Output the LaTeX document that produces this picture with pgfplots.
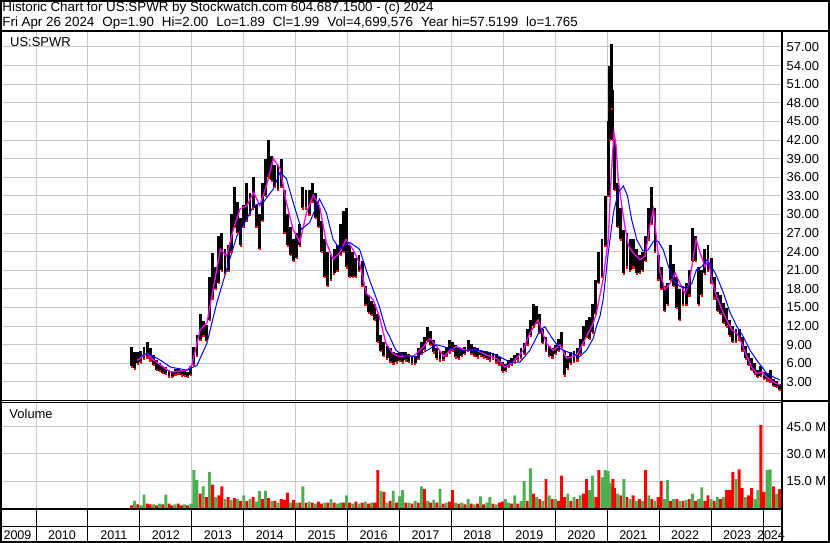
\documentclass[border=0pt]{standalone}
\usepackage{fontspec}
\setmainfont{Liberation Sans}
\usepackage{pgfplots}
\usepackage{pgfplotstable}
\pgfplotsset{compat=1.18}
\definecolor{gridgray}{RGB}{200,200,200}
\definecolor{volred}{RGB}{255,0,0}
\definecolor{volgreen}{RGB}{76,175,80}
\definecolor{mag}{RGB}{255,0,255}
\definecolor{mablue}{RGB}{0,0,255}
\newcommand{\hfa}{\fontsize{13.4}{16}\selectfont}
\newcommand{\hfb}{\fontsize{13.4}{16}\selectfont}
\newcommand{\tf}{\fontsize{13}{15}\selectfont}
\newcommand{\yf}{\fontsize{12.6}{15}\selectfont}
\newcommand{\ds}{\hspace{8.0bp}}

\pgfplotstableread{
x lo hi vr vg
2011.84 5.5 8.6 1.5 0
2011.90 5.2 7.8 0 4
2011.96 6.0 7.8 2 0
2012.02 6.2 8.0 0 1.5
2012.08 6.8 8.6 0 7.5
2012.14 7.0 9.5 2.5 0
2012.20 6.5 8.4 2 0
2012.26 5.8 7.4 0 2
2012.32 5.0 6.6 1.5 0
2012.38 4.8 6.0 0 2.5
2012.44 4.5 5.6 2 0
2012.50 4.3 5.4 0 7.5
2012.56 3.9 4.9 2.5 0
2012.62 3.8 4.8 1.5 0
2012.68 4.2 5.1 0 2
2012.74 4.3 5.2 2.5 0
2012.80 4.1 5.0 1.5 0
2012.86 4.0 4.9 0 2
2012.92 3.8 4.6 1.5 0
2012.98 4.2 5.6 0 2.5
2013.04 5.8 8.6 0 21
2013.10 7.2 10.5 0 15.5
2013.16 9.8 14.0 8 0
2013.22 10.4 12.8 0 12
2013.28 9.6 12.2 6 0
2013.34 13.0 20.0 0 20
2013.40 16.5 23.8 13 0
2013.46 18.0 21.5 0 6
2013.52 19.0 26.5 7 0
2013.58 21.0 27.0 12 0
2013.64 20.5 24.5 0 5
2013.70 21.0 25.0 6 0
2013.76 24.0 30.0 0 4.5
2013.82 28.0 34.5 5.5 0
2013.88 27.0 32.0 0 5
2013.94 25.0 29.5 4 0
2014.00 28.0 31.5 0 7
2014.06 29.0 35.0 4 0
2014.12 30.0 33.5 0 5
2014.18 31.0 36.0 6 0
2014.24 28.0 31.5 0 3.5
2014.30 24.5 30.0 0 9.5
2014.36 29.0 35.0 5 0
2014.42 33.0 39.0 0 9.5
2014.48 36.0 42.0 5.5 0
2014.54 35.5 39.5 0 4
2014.60 34.5 38.0 4 0
2014.66 34.0 38.0 0 3
2014.72 34.5 39.0 5 0
2014.78 27.0 34.0 4.5 0
2014.84 25.0 30.0 8.5 0
2014.90 23.5 28.0 0 3
2014.96 22.5 26.0 4.5 0
2015.02 23.0 27.0 0 3
2015.08 25.0 28.5 3 0
2015.14 31.0 34.5 0 12
2015.20 31.0 34.0 3 0
2015.26 30.0 34.0 0 3.5
2015.32 32.0 35.0 3 0
2015.38 29.5 33.5 0 2.5
2015.44 28.0 31.5 3.5 0
2015.50 24.0 29.0 2.5 0
2015.56 20.0 26.0 0 3
2015.62 18.5 24.0 3 0
2015.68 19.5 23.5 0 5
2015.74 20.5 24.5 3 0
2015.80 21.0 25.0 0 2.5
2015.86 23.5 28.5 0 3
2015.92 24.0 30.5 3 0
2015.98 21.5 31.0 0 7
2016.04 20.0 25.0 3 0
2016.10 20.0 24.0 0 2.5
2016.16 20.0 23.0 3.5 0
2016.22 21.0 23.5 0 2.5
2016.28 18.5 22.5 3 0
2016.34 15.5 18.5 0 3.5
2016.40 14.2 17.0 2.5 0
2016.46 13.8 16.0 0 3
2016.52 13.0 15.6 3 0
2016.58 9.5 14.0 21 0
2016.64 8.0 10.5 0 9.5
2016.70 7.2 9.5 9 0
2016.76 6.8 8.8 0 3
2016.82 6.3 8.5 4 0
2016.88 6.0 7.8 0 9.5
2016.94 6.2 7.6 3 0
2017.00 6.4 7.8 0 6.5
2017.06 6.2 7.9 0 10
2017.12 6.5 7.8 3 0
2017.18 6.3 7.5 0 3
2017.24 5.9 7.0 2.5 0
2017.30 6.0 7.2 0 4
2017.36 6.8 8.4 3 0
2017.42 7.5 9.4 0 12
2017.48 8.2 10.2 10.5 0
2017.54 9.6 11.8 0 4
2017.60 9.0 11.2 3 0
2017.66 7.8 9.8 0 4.5
2017.72 6.8 8.4 3 0
2017.78 6.5 8.0 0 10.5
2017.84 6.6 8.0 2.5 0
2017.90 7.2 8.6 0 3
2017.96 7.8 9.8 3.5 0
2018.02 8.0 9.5 10 0
2018.08 7.0 9.0 0 3
2018.14 6.8 8.5 2.5 0
2018.20 7.2 8.5 0 3
2018.26 7.5 8.6 2 0
2018.32 8.0 9.8 0 5
2018.38 7.6 9.2 2.5 0
2018.44 7.3 8.6 0 2
2018.50 7.0 8.4 2.5 0
2018.56 7.3 8.2 0 6.5
2018.62 7.0 8.0 2 0
2018.68 6.8 7.8 0 3
2018.74 6.5 7.8 0 6
2018.80 6.7 7.6 2.5 0
2018.86 6.2 7.5 0 2
2018.92 5.8 7.0 3 0
2018.98 4.7 6.2 3.5 0
2019.04 4.8 5.9 0 5
2019.10 5.4 6.5 0 3
2019.16 5.8 6.8 2.5 0
2019.22 6.2 7.4 0 7
2019.28 6.5 7.6 2.5 0
2019.34 6.9 8.4 0 4
2019.40 7.6 9.3 0 15
2019.46 9.0 11.5 4 0
2019.52 10.5 13.0 0 22
2019.58 12.0 15.5 8 0
2019.64 12.5 15.3 0 6
2019.70 11.0 14.0 5 0
2019.76 9.3 11.5 0 4
2019.82 8.0 10.2 16 0
2019.88 7.2 8.8 0 7
2019.94 7.0 8.5 5 0
2020.00 7.5 9.0 0 5
2020.06 8.0 10.0 4 0
2020.12 8.7 11.0 18 0
2020.18 4.1 8.0 6 0
2020.24 5.2 7.2 0 8
2020.30 6.0 7.8 4 0
2020.36 6.3 8.0 0 6
2020.42 6.5 8.5 5 0
2020.48 7.5 10.0 0 7
2020.54 9.0 12.0 8 0
2020.60 10.3 13.0 16 0
2020.66 10.0 13.5 0 10
2020.72 11.0 15.5 0 18
2020.78 14.0 19.5 6 0
2020.84 19.0 24.0 21 0
2020.90 20.0 26.0 0 17
2020.96 25.0 33.0 0 21
2021.02 33.0 45.0 0 20.5
2021.05 42.0 54.0 0 14
2021.08 47.0 57.5 12 0
2021.11 42.0 50.0 16 0
2021.14 34.0 42.0 11 0
2021.20 28.0 35.0 0 8
2021.26 26.0 31.0 7 0
2021.32 20.5 27.5 0 16
2021.38 21.5 27.0 6 0
2021.44 21.0 26.0 0 5
2021.50 21.5 26.0 7 0
2021.56 20.5 24.5 0 4
2021.62 20.6 23.5 5 0
2021.68 21.0 24.0 0 4
2021.74 22.5 26.5 21 0
2021.80 26.0 31.0 0 7
2021.86 28.5 34.5 5 0
2021.92 24.0 31.0 0 4
2021.98 19.5 23.5 6 0
2022.04 18.0 21.5 15 0
2022.10 14.5 18.5 0 5
2022.16 15.5 19.0 0 15.5
2022.22 19.5 25.0 4 0
2022.28 18.5 22.0 0 5
2022.34 15.0 20.0 5 0
2022.40 13.0 18.0 0 4
2022.46 15.5 18.5 4 0
2022.52 15.5 19.0 0 4.5
2022.58 17.0 21.0 5 0
2022.64 22.5 27.8 0 8
2022.70 22.5 26.5 4 0
2022.76 15.5 21.5 0 5
2022.82 17.0 21.0 0 11.5
2022.88 20.5 24.5 4 0
2022.94 21.0 25.0 7 0
2023.00 19.0 23.0 0 5
2023.06 16.5 20.0 4 0
2023.12 14.5 17.5 0 6
2023.18 14.0 17.0 5 0
2023.24 12.5 15.8 0 6
2023.30 12.0 15.0 10 0
2023.36 10.5 13.0 10 0
2023.42 9.5 12.0 20 0
2023.48 9.5 11.5 0 16
2023.54 9.8 11.6 21.5 0
2023.60 8.0 10.3 11 0
2023.66 6.8 8.8 0 6
2023.72 5.8 7.6 7 0
2023.78 5.0 6.8 11 0
2023.84 4.4 6.0 0 5
2023.90 3.8 4.9 0 10
2023.96 4.0 5.5 46 0
2024.02 3.5 4.6 9 0
2024.08 3.3 4.4 0 21
2024.14 3.0 4.9 0 21.5
2024.20 2.4 3.5 12 0
2024.26 2.2 3.1 0 8
2024.32 1.77 2.7 10.5 0
}\bars

\pgfplotstableread{
x y
2011.95 6.5
2012.14 7.6
2012.27 6.5
2012.59 4.6
2012.91 4.9
2013.00 5.7
2013.16 11.4
2013.29 12.5
2013.42 18.4
2013.55 24.4
2013.67 23.3
2013.80 27.6
2013.93 30.9
2014.06 31.4
2014.19 33.6
2014.31 31.4
2014.44 34.7
2014.57 39.0
2014.70 37.4
2014.82 32.0
2014.95 27.6
2015.08 25.5
2015.21 30.3
2015.34 33.1
2015.46 31.4
2015.59 25.5
2015.72 22.8
2015.85 23.8
2015.97 26.0
2016.10 24.4
2016.23 22.2
2016.36 17.3
2016.49 16.3
2016.61 13.6
2016.74 9.2
2016.87 7.6
2017.00 7.1
2017.14 7.3
2017.27 7.1
2017.46 8.7
2017.59 10.0
2017.72 8.7
2017.85 7.1
2017.97 8.1
2018.10 8.7
2018.29 8.1
2018.49 8.1
2018.68 7.3
2018.87 6.8
2019.03 5.4
2019.19 6.2
2019.38 8.1
2019.51 10.9
2019.67 13.0
2019.83 9.2
2019.96 8.1
2020.09 9.0
2020.22 6.8
2020.41 7.3
2020.60 10.3
2020.73 12.5
2020.79 14.1
2020.92 19.5
2021.02 26.0
2021.08 36.8
2021.13 43.2
2021.17 41.1
2021.21 35.7
2021.28 31.4
2021.34 28.1
2021.41 24.9
2021.50 23.8
2021.63 22.7
2021.73 23.3
2021.82 28.1
2021.89 30.8
2021.95 26.0
2022.02 20.6
2022.11 17.9
2022.21 18.9
2022.31 20.6
2022.40 18.9
2022.50 17.3
2022.56 18.4
2022.63 21.6
2022.71 26.0
2022.79 23.8
2022.88 21.6
2022.95 22.7
2023.01 19.5
2023.11 16.8
2023.21 14.6
2023.30 13.0
2023.40 11.4
2023.50 10.8
2023.59 9.2
2023.69 7.1
2023.78 5.4
2023.88 4.4
2023.98 4.6
2024.07 3.8
2024.20 3.0
2024.33 2.5
}\maShort

\pgfplotstableread{
x y
2012.01 7.1
2012.14 7.6
2012.40 6.5
2012.59 5.4
2012.91 4.9
2013.10 5.7
2013.29 9.2
2013.48 15.7
2013.67 21.1
2013.87 26.6
2013.99 28.2
2014.19 31.4
2014.38 32.0
2014.57 34.1
2014.70 36.8
2014.82 35.8
2014.95 32.0
2015.11 27.6
2015.27 28.7
2015.46 32.5
2015.59 30.3
2015.72 26.0
2015.85 24.4
2016.04 25.5
2016.23 24.4
2016.42 19.5
2016.61 15.2
2016.74 11.4
2016.80 10.5
2016.93 8.1
2017.08 7.3
2017.33 7.1
2017.59 8.4
2017.72 9.0
2017.97 8.4
2018.23 8.1
2018.49 8.1
2018.68 7.9
2018.87 7.3
2019.13 6.2
2019.32 6.2
2019.51 8.1
2019.71 11.4
2019.80 11.9
2019.96 9.8
2020.09 8.4
2020.22 7.9
2020.47 7.1
2020.60 8.1
2020.73 10.0
2020.79 11.9
2020.86 13.6
2020.92 16.2
2021.02 23.8
2021.12 30.3
2021.21 33.5
2021.31 34.6
2021.39 33.0
2021.47 29.2
2021.57 25.9
2021.69 24.1
2021.79 24.3
2021.89 25.7
2021.98 25.7
2022.08 24.3
2022.18 21.6
2022.27 19.5
2022.40 18.4
2022.53 18.1
2022.63 18.9
2022.72 21.1
2022.82 21.6
2022.92 22.7
2023.01 21.6
2023.11 20.0
2023.24 17.3
2023.37 14.1
2023.50 11.9
2023.62 10.3
2023.75 8.1
2023.88 6.5
2023.98 5.4
2024.07 4.4
2024.20 3.8
2024.33 3.3
}\maLong

\begin{document}
\begin{tikzpicture}
\useasboundingbox (0bp,0bp) rectangle (830bp,543bp);
\fill[white] (0bp,0bp) rectangle (830bp,543bp);

% ---------- price panel ----------
\begin{axis}[
  at={(2bp,142.4bp)}, anchor=south west, scale only axis,
  width=779.7bp, height=368.6bp,
  xmin=2009.345, xmax=2024.36, ymin=0, ymax=59.41,
  axis line style={draw=none}, tick style={draw=none},
  xtick={2010,2011,...,2024}, xticklabels={},
  ytick={3,6,...,57},
  yticklabel pos=right,
  grid=major, grid style={gridgray, line width=1bp},
  yticklabel style={anchor=west, inner sep=0pt, xshift=4.8bp, font=\tf},
  /pgf/number format/fixed, /pgf/number format/fixed zerofill,
  /pgf/number format/precision=2, /pgf/number format/assume math mode=true,
]
\addplot[draw=none, mark=none,
  error bars/.cd, y dir=both, y explicit, error mark=none,
  error bar style={draw=black, solid, line width=2.9bp}]
  table[x=x, y expr={(\thisrow{lo}+\thisrow{hi})/2},
        y error expr={(\thisrow{hi}-\thisrow{lo})/2}] {\bars};
\addplot[only marks, mark=square*, mark size=0.6bp, volred,
  mark options={draw=none}] table[x=x, y=lo] {\bars};
\addplot[mag, line width=1.3bp] table[x=x, y=y] {\maShort};
\addplot[mablue, line width=1bp] table[x=x, y=y] {\maLong};
\end{axis}

% ---------- volume panel ----------
\begin{axis}[
  at={(2bp,33.7bp)}, anchor=south west, scale only axis,
  width=779.7bp, height=107bp,
  xmin=2009.345, xmax=2024.36, ymin=-0.7, ymax=58.7,
  axis line style={draw=none}, tick style={draw=none},
  xtick={2010,2011,...,2024}, xticklabels={},
  ytick={15,30,45}, yticklabels={15.0 M,30.0 M,45.0 M},
  yticklabel pos=right,
  grid=major, grid style={gridgray, line width=1bp},
  yticklabel style={anchor=west, inner sep=0pt, xshift=4.8bp, font=\tf},
]
\addplot[ybar, bar width=2.9bp, bar shift=0pt, fill=volred, draw=none]
  table[x=x, y=vr] {\bars};
\addplot[ybar, bar width=2.9bp, bar shift=0pt, fill=volgreen, draw=none]
  table[x=x, y=vg] {\bars};
\end{axis}

% ---------- frame and texts ----------
\begin{scope}[x=1bp,y=1bp]
\draw[line width=2bp] (0,512) -- (830,512);
\draw[line width=1bp] (0,142.6) -- (781.7,142.6);
\draw[line width=1bp] (0,140.6) -- (781.7,140.6);
\draw[line width=1.5bp] (781.7,142.2) -- (830,142.2);
\draw[line width=2bp] (0,33.7) -- (781.7,33.7);
\draw[line width=1.5bp] (0,16.3) -- (781.7,16.3);
\draw[line width=2bp] (781.7,0) -- (781.7,512);
\foreach \i in {0,...,14} \draw[line width=1bp] ({36+51.93*\i},0) -- ({36+51.93*\i},33.7);
\draw[line width=2bp] (1,1) rectangle (829,542);

\node[anchor=base west, inner sep=0pt, font=\hfa] at (2.2,531.3)
  {Historic Chart for US:SPWR by Stockwatch.com 604.687.1500 - (c) 2024};
\node[anchor=base west, inner sep=0pt, font=\hfb] at (2.2,516.3)
  {Fri Apr 26 2024\ds Op=1.90\ds Hi=2.00\ds Lo=1.89\ds Cl=1.99\ds Vol=4,699,576\ds Year hi=57.5199\ds lo=1.765};
\node[anchor=base west, inner sep=0pt, font=\tf] at (10,496.3) {US:SPWR};
\node[anchor=base west, inner sep=0pt, font=\tf] at (9.3,124.7) {Volume};
\node[anchor=base, inner sep=0pt, font=\yf] at (17.5,3.7) {2009};
\foreach \yr [count=\i from 0] in {2010,2011,...,2023}
  \node[anchor=base, inner sep=0pt, font=\yf] at ({62+51.93*\i},3.7) {\yr};
\node[anchor=base, inner sep=0pt, font=\yf] at (771,3.7) {2024};
\end{scope}
\end{tikzpicture}
\end{document}
